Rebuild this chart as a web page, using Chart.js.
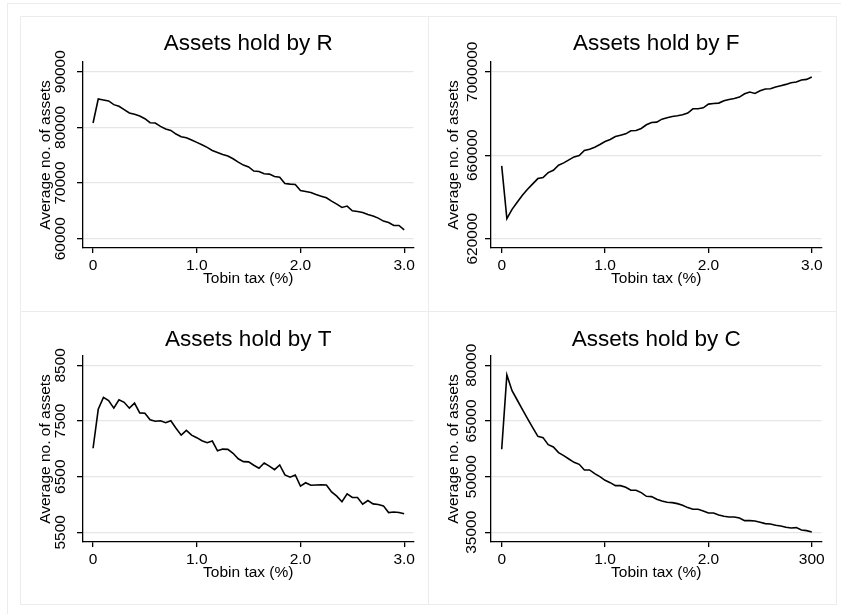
<!DOCTYPE html>
<html>
<head>
<meta charset="utf-8">
<script src="https://cdn.jsdelivr.net/npm/chart.js@4/dist/chart.umd.min.js"></script>
<style>
  body { margin: 0; background: #fff; width: 841px; height: 614px; position: relative; overflow: hidden; }
  .frame { position: absolute; left: 7px; top: 3px; width: 860px; height: 640px; border-top: 1px solid #ececec; border-left: 1px solid #ececec; }
  .panel { position: absolute; box-sizing: border-box; border: 1px solid #ececec; }
  canvas { position: absolute; }
</style>
</head>
<body>
<div class="frame"></div>
<div class="panel" style="left:20px;top:16px;width:409px;height:296px"></div>
<div class="panel" style="left:428px;top:16px;width:409px;height:296px"></div>
<div class="panel" style="left:20px;top:311px;width:409px;height:294px"></div>
<div class="panel" style="left:428px;top:311px;width:409px;height:294px"></div>
<canvas id="chartR" width="408" height="295" style="left:20px;top:16px"></canvas>
<canvas id="chartF" width="408" height="295" style="left:428px;top:16px"></canvas>
<canvas id="chartT" width="408" height="295" style="left:20px;top:310px"></canvas>
<canvas id="chartC" width="408" height="295" style="left:428px;top:310px"></canvas>
<script>
"use strict";
// Tobin tax (%) steps
const taxRates = [0, 0.05, 0.1, 0.15, 0.2, 0.25, 0.3, 0.35, 0.4, 0.45, 0.5, 0.55, 0.6, 0.65, 0.7, 0.75, 0.8, 0.85, 0.9, 0.95,
    1.0, 1.05, 1.1, 1.15, 1.2, 1.25, 1.3, 1.35, 1.4, 1.45, 1.5, 1.55, 1.6, 1.65, 1.7, 1.75, 1.8, 1.85, 1.9, 1.95,
    2.0, 2.05, 2.1, 2.15, 2.2, 2.25, 2.3, 2.35, 2.4, 2.45, 2.5, 2.55, 2.6, 2.65, 2.7, 2.75, 2.8, 2.85, 2.9, 2.95, 3.0];

const assetsR = [80780, 85100, 84920, 84740, 84080, 83780, 83180, 82580, 82340, 82040, 81560, 80840, 80780, 80180, 79700, 79460,
    78800, 78320, 78140, 77720, 77300, 76880, 76400, 75860, 75500, 75140, 74840, 74360, 73760, 73220, 72900, 72150,
    72080, 71660, 71600, 71180, 71060, 69920, 69800, 69740, 68660, 68480, 68300, 67940, 67640, 67340, 66760, 66220,
    65620, 65860, 65020, 64900, 64720, 64360, 64060, 63700, 63160, 62920, 62380, 62380, 61600];

const assetsF = [654880, 629600, 634080, 637440, 640800, 643680, 646240, 648800, 649280, 651680, 652800, 655200, 656320, 657760,
    659200, 659840, 662240, 662880, 663840, 665120, 666560, 667520, 668960, 669600, 670240, 671680, 671840, 672800,
    674560, 675680, 675840, 677280, 677920, 678560, 678880, 679360, 680160, 682240, 682240, 682720, 684480, 684800,
    684960, 686080, 686720, 687200, 687840, 689440, 690240, 689600, 690880, 691680, 691840, 692640, 693280, 693920,
    694720, 695040, 696000, 696320, 697440];

const assetsT = [7010, 7710, 7925, 7865, 7730, 7880, 7835, 7730, 7820, 7645, 7640, 7520, 7495, 7505, 7470, 7505, 7370, 7245,
    7330, 7245, 7200, 7145, 7110, 7140, 6965, 6995, 6990, 6920, 6820, 6770, 6765, 6705, 6650, 6745, 6690, 6625, 6710,
    6530, 6490, 6530, 6330, 6390, 6345, 6350, 6355, 6350, 6225, 6150, 6050, 6190, 6125, 6125, 6005, 6070, 6010, 6000,
    5975, 5855, 5865, 5855, 5835];

const assetsC = [57360, 77390, 73170, 70650, 68140, 65630, 63200, 60870, 60510, 58620, 57990, 56470, 55660, 54760, 53860, 53320,
    51800, 51800, 50810, 50000, 49010, 48380, 47580, 47580, 47130, 46320, 46320, 45690, 44700, 44610, 43890, 43440,
    43080, 42990, 42730, 42280, 41650, 41200, 41200, 40750, 40210, 40210, 39670, 39310, 39130, 39130, 38860, 38150,
    38150, 38060, 37700, 37340, 37250, 36890, 36710, 36350, 36170, 36260, 35630, 35450, 35090];

// tick values and labels
const xTickValues = [0, 1, 2, 3];
const xTickLabels = ['0', '1.0', '2.0', '3.0'];
const xTickLabelsC = ['0', '1.0', '2.0', '300'];
const yTicksR = [60000, 70000, 80000, 90000];
const yLabelsR = ['60000', '70000', '80000', '90000'];
const yTicksF = [620000, 660000, 700000];
const yLabelsF = ['620000', '660000', '7000000'];
const yTicksT = [5500, 6500, 7500, 8500];
const yLabelsT = ['5500', '6500', '7500', '8500'];
const yTicksC = [35000, 50000, 65000, 80000];
const yLabelsC = ['35000', '50000', '65000', '80000'];

const FONT = '"Liberation Sans", Arial, sans-serif';

function makePanel(id, title, values, yTicks, yLabels, yMin, yMax, xLabels, xMin, xMax, tickPad, titleShift) {
    let canvas = document.getElementById(id);
    let ctx = canvas.getContext('2d');
    let h = canvas.height;
    return new Chart(ctx, {
        type: 'line',
        data: {
            datasets: [{
                    data: taxRates.map((t, i) => ({ x: t, y: values[i] })),
                    borderColor: '#000',
                    borderWidth: 1.6,
                    pointRadius: 0,
                    tension: 0,
                    fill: false
                }]
        },
        options: {
            responsive: false,
            animation: false,
            devicePixelRatio: 1,
            layout: { padding: { left: 0, right: 14.5, top: 0, bottom: 0 } },
            plugins: {
                legend: { display: false },
                tooltip: { enabled: false },
                title: {
                    display: true,
                    fullSize: false,
                    text: title,
                    color: '#000',
                    font: { family: FONT, size: 22.5, weight: 'normal', lineHeight: 1.2 },
                    padding: { top: 14.3 + titleShift, bottom: 4.7 - titleShift }
                }
            },
            scales: {
                x: {
                    type: 'linear',
                    min: xMin,
                    max: xMax,
                    afterBuildTicks: s => { s.ticks = xTickValues.map(v => ({ value: v })); },
                    afterFit: s => { s.height = h - 232; },
                    grid: { drawOnChartArea: false, tickColor: '#000', tickLength: 5, lineWidth: 1.3 },
                    border: { color: '#000', width: 1.3 },
                    ticks: {
                        maxRotation: 0,
                        autoSkip: false,
                        padding: 3,
                        color: '#000',
                        font: { family: FONT, size: 15.5 },
                        callback: (v, i) => xLabels[i]
                    },
                    title: {
                        display: true,
                        text: 'Tobin tax (%)',
                        color: '#000',
                        font: { family: FONT, size: 15.5 },
                        padding: { top: 0, bottom: 22.5 }
                    }
                },
                y: {
                    type: 'linear',
                    min: yMin,
                    max: yMax,
                    afterBuildTicks: s => { s.ticks = yTicks.map(v => ({ value: v })); },
                    afterFit: s => { s.width = 63; },
                    grid: { color: '#e6e6e6', lineWidth: 1.3, tickColor: '#000', tickLength: 6 },
                    border: { color: '#000', width: 1.3 },
                    ticks: {
                        minRotation: 90,
                        maxRotation: 90,
                        crossAlign: 'center',
                        autoSkip: false,
                        padding: tickPad,
                        color: '#000',
                        font: { family: FONT, size: 15.5 },
                        callback: (v, i) => yLabels[i]
                    },
                    title: {
                        display: true,
                        text: 'Average no. of assets',
                        color: '#000',
                        font: { family: FONT, size: 15.5 },
                        padding: { top: 16.8, bottom: 0 }
                    }
                }
            }
        }
    });
}

document.addEventListener("DOMContentLoaded", function () {
    makePanel('chartR', 'Assets hold by R', assetsR, yTicksR, yLabelsR, 58330, 91740, xTickLabels, -0.097, 3.09, -5.2, 0);
    makePanel('chartF', 'Assets hold by F', assetsF, yTicksF, yLabelsF, 615545, 704650, xTickLabels, -0.1035, 3.094, -17.6, 0);
    makePanel('chartT', 'Assets hold by T', assetsT, yTicksT, yLabelsT, 5326, 8667, xTickLabels, -0.097, 3.09, -0.9, 2);
    makePanel('chartC', 'Assets hold by C', assetsC, yTicksC, yLabelsC, 32387, 82505, xTickLabelsC, -0.1035, 3.094, -8.7, 2);
});
</script>
</body>
</html>
